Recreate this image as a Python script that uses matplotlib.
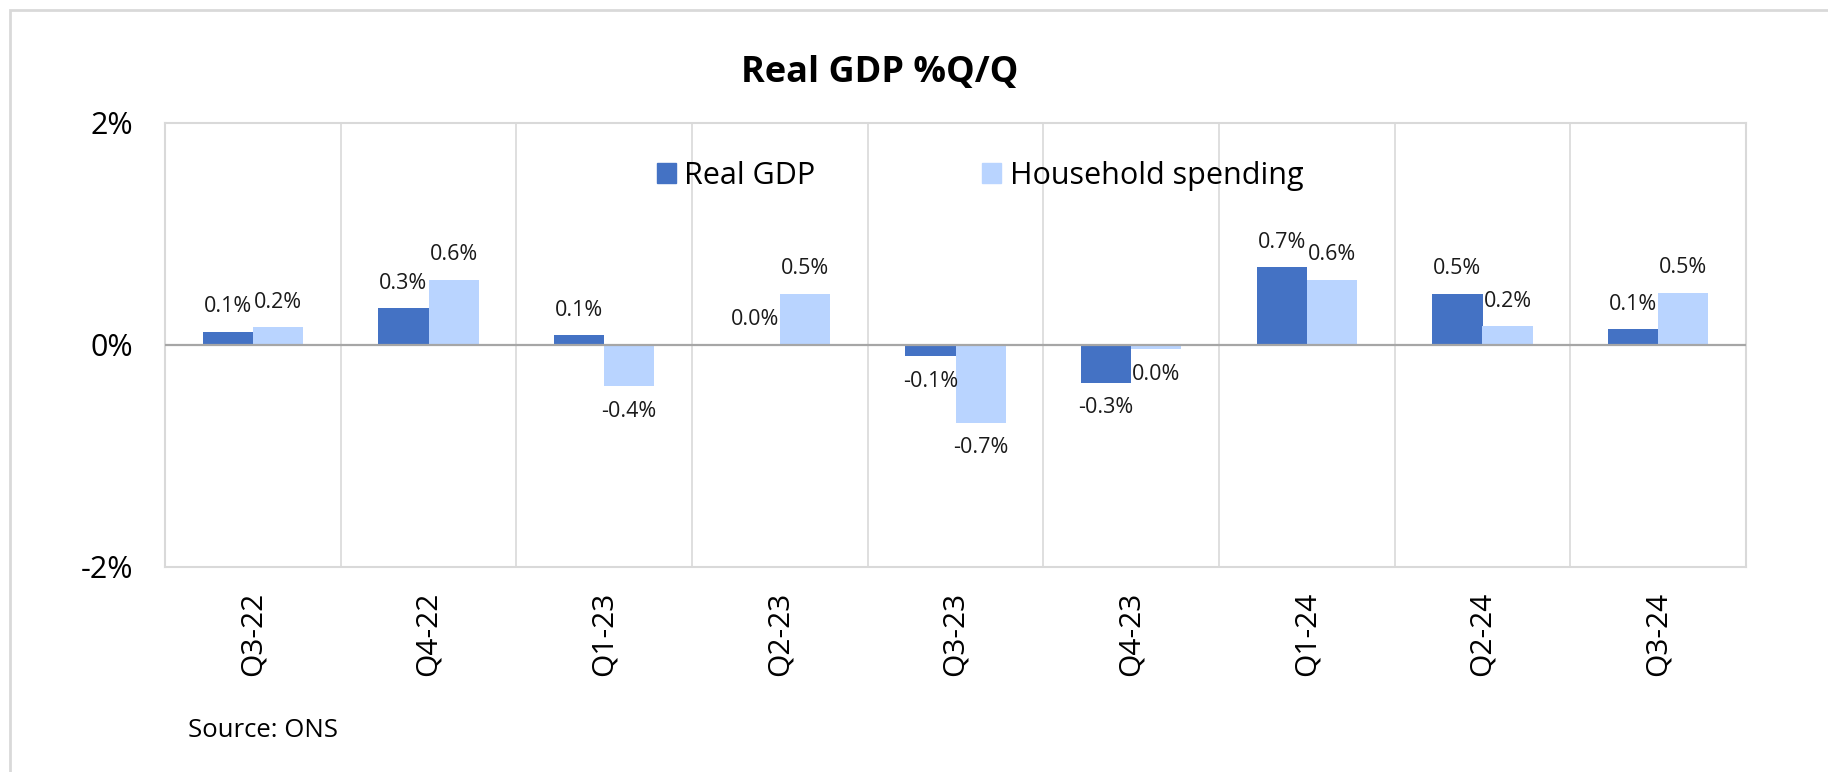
import matplotlib
matplotlib.use("Agg")
import matplotlib.pyplot as plt
from matplotlib.patches import Rectangle, Patch
import numpy as np

plt.rcParams['font.family'] = ['Open Sans', 'DejaVu Sans']

# quarterly growth, %Q/Q
quarters = ['Q3-22', 'Q4-22', 'Q1-23', 'Q2-23', 'Q3-23', 'Q4-23', 'Q1-24', 'Q2-24', 'Q3-24']
real_gdp = [0.12, 0.33, 0.09, 0.0, -0.10, -0.34, 0.70, 0.46, 0.14]
household = [0.16, 0.59, -0.37, 0.46, -0.70, -0.04, 0.59, 0.17, 0.47]

gdp_col = '#4472C4'
hh_col = '#B9D4FF'
grid_col = '#D9D9D9'

W, H = 1828, 772
fig = plt.figure(figsize=(W / 100, H / 100), dpi=100)
ax = fig.add_axes([165 / W, 1 - 567 / H, (1746 - 165) / W, (567 - 123) / H])

x = np.arange(len(quarters))
bw = 0.285
b1 = ax.bar(x - bw / 2, real_gdp, bw, color=gdp_col, zorder=3)
b2 = ax.bar(x + bw / 2, household, bw, color=hh_col, zorder=3)

# value labels outside the bar end
for bars, vals in ((b1, real_gdp), (b2, household)):
    for rect, v in zip(bars, vals):
        cx = rect.get_x() + rect.get_width() / 2
        off = 18 if v >= 0 else -18
        ax.annotate(f"{round(v, 1) + 0.0:.1f}%", (cx, v), xytext=(0, off),
                    textcoords='offset points', ha='center', va='center',
                    fontsize=15.5, color='#1a1a1a', zorder=4)

ax.axhline(0, color='#A6A6A6', lw=1.6, zorder=3)

ax.set_xlim(-0.5, len(quarters) - 0.5)
ax.set_ylim(-2, 2)
ax.set_yticks([-2, 0, 2])
ax.set_yticklabels(['-2%', '0%', '2%'])
ax.set_xticks(x)
ax.set_xticklabels(quarters, rotation=90)
ax.set_xticks(np.arange(0.5, len(quarters) - 1, 1), minor=True)
ax.grid(True, which='minor', axis='x', color=grid_col, lw=1.2, zorder=0)
ax.tick_params(axis='both', which='both', length=0)
ax.tick_params(axis='y', labelsize=22, pad=23)
ax.tick_params(axis='x', labelsize=21.5, pad=18)
for sp in ax.spines.values():
    sp.set_color(grid_col)
    sp.set_linewidth(1.5)

leg = ax.legend(handles=[Patch(color=gdp_col, label='Real GDP'),
                         Patch(color=hh_col, label='Household spending')],
                loc='center left', bbox_to_anchor=(657 / W, 1 - 176 / H),
                bbox_transform=fig.transFigure, ncol=2, frameon=False,
                fontsize=22, handlelength=0.62, handleheight=0.62,
                handletextpad=0.28, columnspacing=5.45, borderpad=0,
                borderaxespad=0)

fig.text(880 / W, 1 - 82 / H, 'Real GDP %Q/Q', ha='center', va='baseline',
         fontsize=26, fontweight='bold')
fig.text(188 / W, 1 - 737 / H, 'Source: ONS', ha='left', va='baseline',
         fontsize=18.5)

# outer chart frame
fig.patches.append(Rectangle((10 / W, -0.1), 1.2, 1.1 - 10 / H, transform=fig.transFigure,
                             fill=False, edgecolor=grid_col, lw=2))

fig.savefig('out.png', dpi=100)
